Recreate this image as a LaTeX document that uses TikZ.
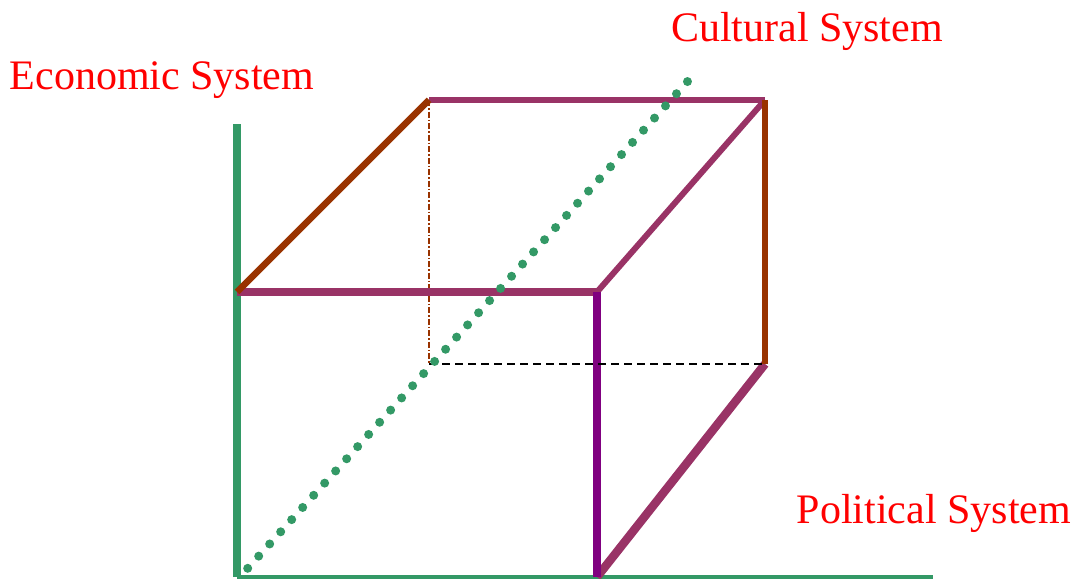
\documentclass[tikz,border=0pt]{standalone}
\usepackage{fontspec}
\setmainfont{Liberation Serif}
\definecolor{axisgreen}{HTML}{339966}
\definecolor{edgemaroon}{HTML}{993366}
\definecolor{edgebrown}{HTML}{993300}
\definecolor{edgepurple}{HTML}{800080}

\begin{document}
\begin{tikzpicture}[x=1pt,y=-1pt,
  sysname/.style={text=red,font=\fontsize{42}{46}\selectfont,anchor=base,inner sep=0pt}]
\useasboundingbox (0,0) rectangle (1081,578);
% axes
\coordinate (orig) at (237,577);
\coordinate (econ_top) at (237,124);
\coordinate (pol_end) at (933,577);
\coordinate (cult_start) at (247.7,568.3);
\coordinate (cult_end) at (687.7,81.3);
% cube corners (front / back)
\coordinate (ftl) at (237,292);
\coordinate (ftr) at (597,292);
\coordinate (fbr) at (597,577);
\coordinate (btl) at (429,100);
\coordinate (btr) at (765,100);
\coordinate (bbr) at (765,364);
\coordinate (bbl) at (429,364);

\draw[axisgreen,line width=3.5pt] (orig)--(pol_end);
\draw[axisgreen,line width=8.5pt] (orig)--(econ_top);

\draw[edgebrown,line width=2pt,dash pattern=on 6pt off 2pt on 1.5pt off 2pt] (btl)--(bbl);
\draw[edgemaroon,line width=8.5pt] (ftl)--(ftr);
\draw[edgemaroon,line width=6.5pt] (btl)--(btr);
\draw[edgemaroon,line width=6pt] (ftr)--(btr);
\draw[edgemaroon,line width=8.5pt] (fbr)--(bbr);
\draw[edgebrown,line width=6.5pt] (ftl)--(btl);
\draw[edgebrown,line width=6.5pt] (btr)--(bbr);
\draw[edgepurple,line width=8.5pt] (ftr)--(fbr);
\draw[black,line width=2pt,dash pattern=on 8pt off 5pt] (bbl)--(bbr);

\draw[axisgreen,line width=9pt,line cap=round,dash pattern=on 0pt off 16.4pt] (cult_start)--(cult_end);

\node[sysname] (econ) at (162,89) {Economic System};
\node[sysname] (cult) at (807,42) {Cultural System};
\node[sysname] (pol) at (934,523) {Political System};
\end{tikzpicture}
\end{document}
